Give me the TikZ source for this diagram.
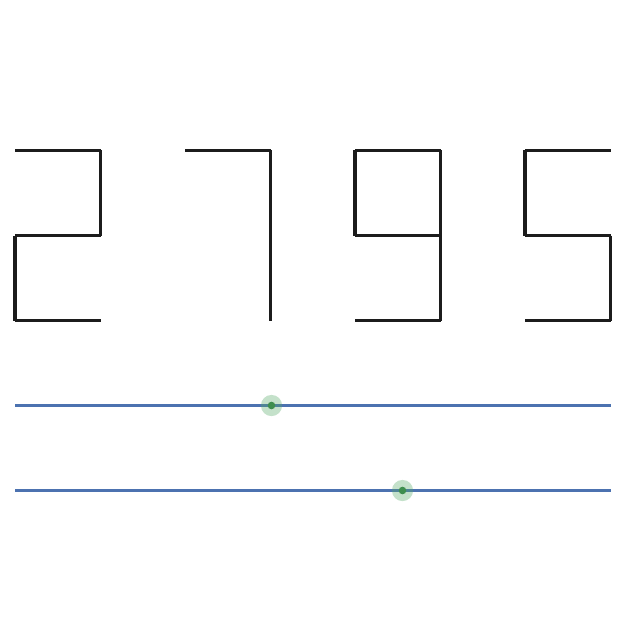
\documentclass[tikz,border=0pt]{standalone}
\usepackage{tikz}
\definecolor{segblack}{HTML}{1C1C1C}
\definecolor{trackblue}{HTML}{4C72B0}
\definecolor{knobgreen}{HTML}{3E8E4E}
\definecolor{halogreen}{HTML}{55A868}

\begin{document}
\begin{tikzpicture}[x=0.025cm, y=-0.025cm,
	seg/.style={draw=segblack, line width=2.2pt},
	track/.style={draw=trackblue, line width=2.2pt},
	halo/.style={circle, fill=halogreen, fill opacity=0.35, minimum size=0.53cm, inner sep=0pt},
	knob/.style={circle, fill=knobgreen, minimum size=0.19cm, inner sep=0pt}]
	\useasboundingbox (0, 0) rectangle (630, 630);
	\foreach \n/\x in {two/15, seven/185, nine/355, five/525} {
		\coordinate (\n a) at (\x, 150.5);
		\coordinate (\n b) at (\x+85.5, 150.5);
		\coordinate (\n c) at (\x, 235.5);
		\coordinate (\n d) at (\x+85.5, 235.5);
		\coordinate (\n e) at (\x, 320.5);
		\coordinate (\n f) at (\x+85.5, 320.5);
	}
	\foreach \p/\q in {a/b, b/d, c/d, c/e, e/f}
		\draw[seg] (two\p) -- (two\q);
	\foreach \p/\q in {a/b, b/d, d/f}
		\draw[seg] (seven\p) -- (seven\q);
	\foreach \p/\q in {a/b, a/c, b/d, c/d, d/f, e/f}
		\draw[seg] (nine\p) -- (nine\q);
	\foreach \p/\q in {a/b, a/c, c/d, d/f, e/f}
		\draw[seg] (five\p) -- (five\q);
	\coordinate (topl) at (15, 405.5);
	\coordinate (topr) at (611, 405.5);
	\coordinate (lowl) at (15, 490.5);
	\coordinate (lowr) at (611, 490.5);
	\draw[track] (topl) -- (topr);
	\draw[track] (lowl) -- (lowr);
	\foreach \k/\x/\y in {topknob/271.5/405.5, lowknob/402.5/490.5} {
		\node[halo] (\k halo) at (\x, \y) {};
		\node[knob] (\k) at (\x, \y) {};
	}
\end{tikzpicture}
\end{document}
